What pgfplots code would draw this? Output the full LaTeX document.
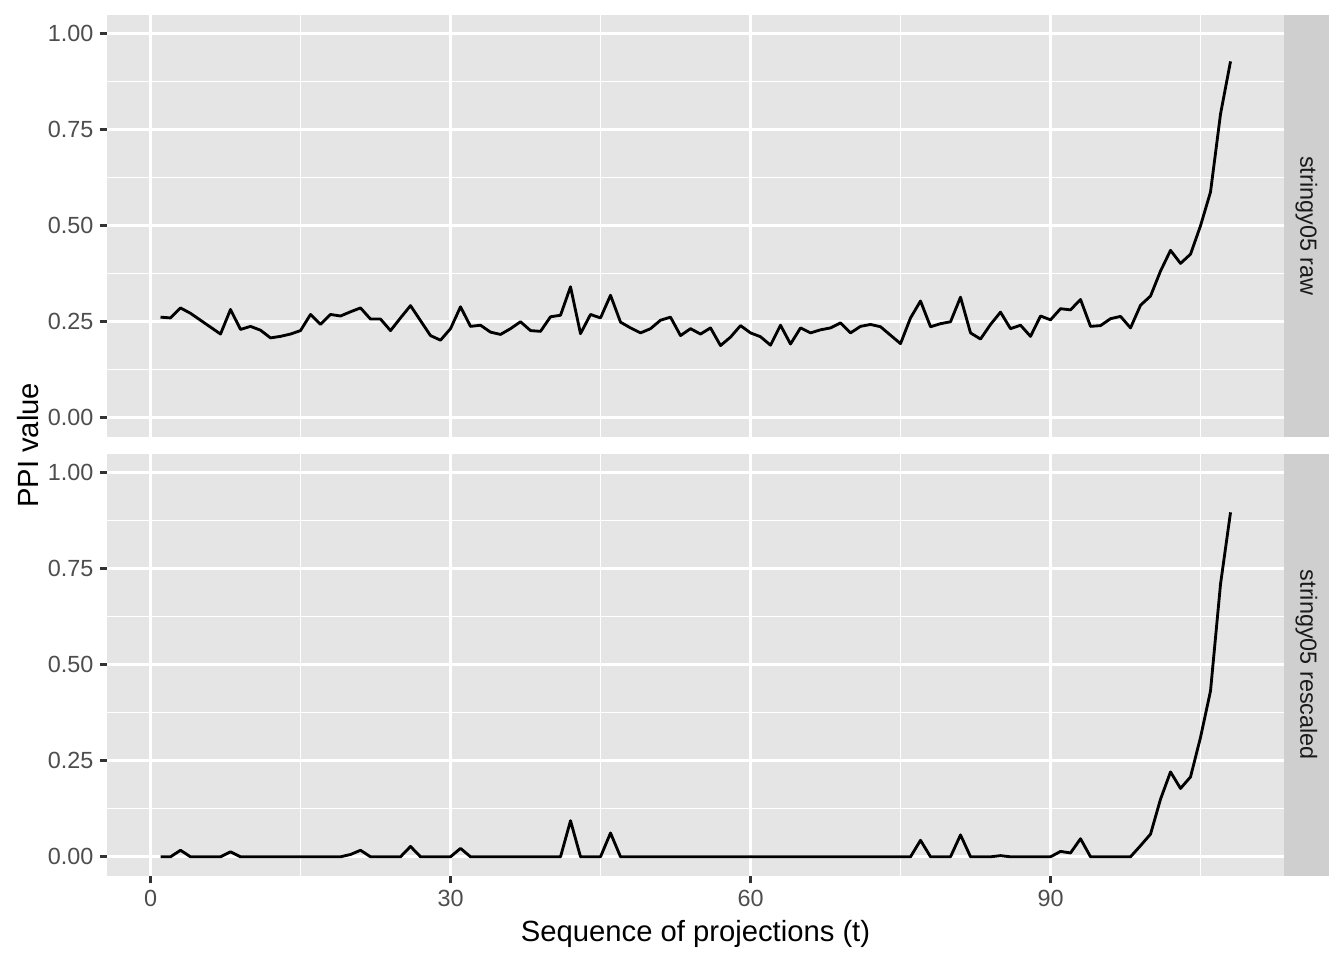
\documentclass[border=0pt]{standalone}
\usepackage{fontspec}
\setmainfont{Liberation Sans}
\usepackage{pgfplots}
\usepackage{pgfplotstable}
\pgfplotsset{compat=1.18}
\definecolor{panelbg}{HTML}{E5E5E5}
\definecolor{stripbg}{HTML}{CFCFCF}
\definecolor{tickcol}{HTML}{333333}
\definecolor{labcol}{HTML}{4D4D4D}
\definecolor{striptext}{HTML}{1A1A1A}

\pgfplotstableread{
t v
1 0.262
2 0.260
3 0.286
4 0.272
5 0.254
6 0.236
7 0.218
8 0.282
9 0.230
10 0.238
11 0.228
12 0.208
13 0.212
14 0.218
15 0.227
16 0.269
17 0.243
18 0.269
19 0.265
20 0.276
21 0.286
22 0.257
23 0.257
24 0.227
25 0.260
26 0.292
27 0.253
28 0.214
29 0.202
30 0.232
31 0.289
32 0.238
33 0.241
34 0.223
35 0.217
36 0.232
37 0.250
38 0.227
39 0.225
40 0.263
41 0.267
42 0.341
43 0.219
44 0.269
45 0.260
46 0.319
47 0.249
48 0.234
49 0.221
50 0.232
51 0.254
52 0.262
53 0.214
54 0.232
55 0.218
56 0.234
57 0.188
58 0.210
59 0.240
60 0.221
61 0.211
62 0.189
63 0.241
64 0.192
65 0.234
66 0.221
67 0.229
68 0.234
69 0.247
70 0.221
71 0.238
72 0.243
73 0.237
74 0.215
75 0.193
76 0.260
77 0.304
78 0.237
79 0.245
80 0.250
81 0.314
82 0.221
83 0.205
84 0.243
85 0.275
86 0.232
87 0.241
88 0.212
89 0.265
90 0.255
91 0.284
92 0.281
93 0.308
94 0.238
95 0.240
96 0.258
97 0.264
98 0.234
99 0.293
100 0.317
101 0.382
102 0.436
103 0.402
104 0.426
105 0.500
106 0.588
107 0.791
108 0.928
}\rawdata

\pgfplotstableread{
t v
1 0
2 0
3 0.017
4 0
5 0
6 0
7 0
8 0.013
9 0
10 0
11 0
12 0
13 0
14 0
15 0
16 0
17 0
18 0
19 0
20 0.006
21 0.017
22 0
23 0
24 0
25 0
26 0.027
27 0
28 0
29 0
30 0
31 0.022
32 0
33 0
34 0
35 0
36 0
37 0
38 0
39 0
40 0
41 0
42 0.094
43 0
44 0
45 0
46 0.062
47 0
48 0
49 0
50 0
51 0
52 0
53 0
54 0
55 0
56 0
57 0
58 0
59 0
60 0
61 0
62 0
63 0
64 0
65 0
66 0
67 0
68 0
69 0
70 0
71 0
72 0
73 0
74 0
75 0
76 0
77 0.043
78 0
79 0
80 0
81 0.057
82 0
83 0
84 0
85 0.003
86 0
87 0
88 0
89 0
90 0
91 0.014
92 0.010
93 0.047
94 0
95 0
96 0
97 0
98 0
99 0.029
100 0.059
101 0.150
102 0.221
103 0.178
104 0.208
105 0.311
106 0.432
107 0.710
108 0.897
}\rescdata

\pgfplotsset{ggpanel/.style={
  scale only axis, width=443.03pt, height=159pt,
  anchor=south west,
  xmin=-4.35, xmax=113.35, ymin=-0.05, ymax=1.05,
  axis background/.style={fill=panelbg},
  axis line style={draw=none},
  xtick={0,30,60,90}, minor xtick={15,45,75,105},
  ytick={0,0.25,0.5,0.75,1}, minor ytick={0.125,0.375,0.625,0.875},
  yticklabels={0.00,0.25,0.50,0.75,1.00},
  grid=both,
  major grid style={white, line width=1.07pt},
  minor grid style={white, line width=0.53pt},
  tick align=outside, tick pos=left,
  major tick length=2.75pt, minor tick length=0pt,
  tick style={tickcol, line width=1.07pt},
  /pgf/number format/assume math mode=true,
  ticklabel style={font=\fontsize{8.8}{10}\selectfont, text=labcol},
  yticklabel style={inner sep=0pt, xshift=-2.2pt},
  xticklabel style={inner sep=0pt, yshift=-2.2pt},
  clip=false,
}}

\begin{document}
\begin{tikzpicture}
\useasboundingbox (0,0) rectangle (505.89pt,361.35pt);
\begin{axis}[ggpanel, at={(40.28pt,196.87pt)}, xticklabels={}, xtick style={draw=none}]
  \addplot[black, line width=1.07pt, line join=round, mark=none] table[x=t, y=v] {\rawdata};
  \fill[stripbg] (rel axis cs:1,0) rectangle ([xshift=16.94pt]rel axis cs:1,1);
  \node[rotate=-90, font=\fontsize{8.8}{10}\selectfont, text=striptext] at ([xshift=8.47pt]rel axis cs:1,0.5) {stringy05 raw};
\end{axis}
\begin{axis}[ggpanel, at={(40.28pt,31.62pt)}]
  \addplot[black, line width=1.07pt, line join=round, mark=none] table[x=t, y=v] {\rescdata};
  \fill[stripbg] (rel axis cs:1,0) rectangle ([xshift=16.94pt]rel axis cs:1,1);
  \node[rotate=-90, font=\fontsize{8.8}{10}\selectfont, text=striptext] at ([xshift=8.47pt]rel axis cs:1,0.5) {stringy05 rescaled};
\end{axis}
\node[anchor=base, font=\fontsize{11}{13}\selectfont] at (261.8pt,7.1pt) {Sequence of projections (t)};
\node[anchor=base, rotate=90, font=\fontsize{11}{13}\selectfont] at (14.4pt,193.7pt) {PPI value};
\end{tikzpicture}
\end{document}
